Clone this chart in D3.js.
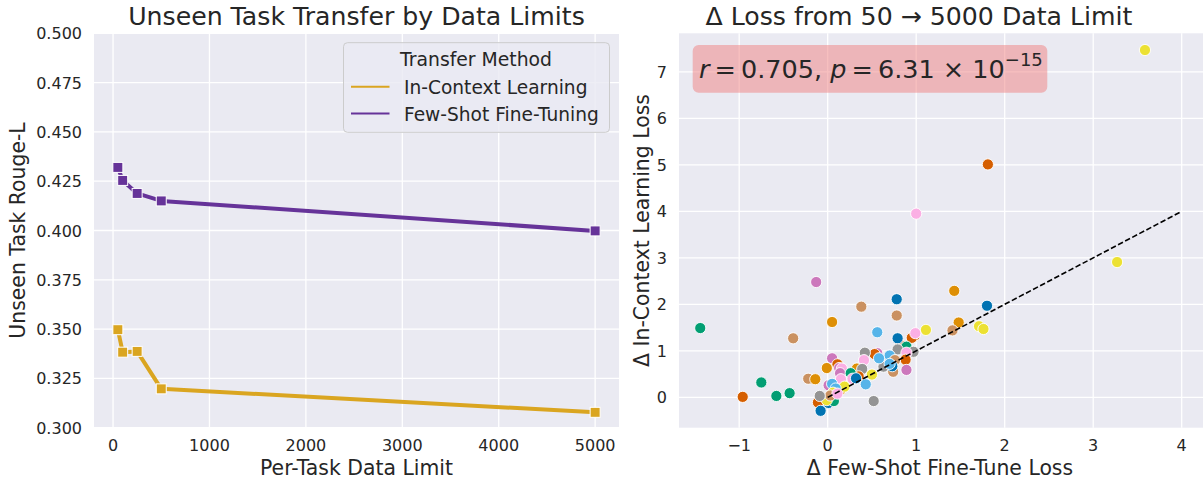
<!DOCTYPE html>
<html>
<head>
<meta charset="utf-8">
<script src="https://cdn.jsdelivr.net/npm/d3@7"></script>
<style>
  body { margin: 0; background: #fff; }
  svg { display: block; font-family: "DejaVu Sans", sans-serif; }
</style>
</head>
<body>
<div id="chart"></div>
<script>
// left panel: rouge-L vs per-task data limit
const dataLimits = [50, 100, 250, 500, 5000];
const iclRouge = [0.3497, 0.3383, 0.3387, 0.3197, 0.3078];
const fsftRouge = [0.4320, 0.4254, 0.4188, 0.4150, 0.3998];
const methodNames = ["In-Context Learning", "Few-Shot Fine-Tuning"];
const methodColors = ["#DAA520", "#663399"];
const leftXTicks = [0, 1000, 2000, 3000, 4000, 5000];
const leftYTicks = [0.300, 0.325, 0.350, 0.375, 0.400, 0.425, 0.450, 0.475, 0.500];

// right panel: delta loss per task  [d few-shot FT, d ICL, task group]
const deltaLoss = [
  [0.78, 2.11, 0], [1.80, 1.97, 0], [-1.44, 1.49, 2], [-0.13, 2.48, 4], [0.38, 1.95, 5],
  [1.81, 5.01, 3], [1.00, 3.95, 6], [3.585, 7.47, 8], [3.27, 2.91, 8], [1.43, 2.29, 1],
  [0.78, 1.76, 5], [0.05, 1.62, 1], [1.48, 1.61, 1], [1.71, 1.53, 8], [1.76, 1.47, 8],
  [1.41, 1.44, 5], [-0.39, 1.27, 5], [-0.75, 0.32, 2], [-0.43, 0.09, 2], [-0.58, 0.03, 2],
  [-0.96, 0.01, 3], [-0.22, 0.40, 5], [-0.14, 0.39, 1], [1.11, 1.45, 8], [0.98, 1.32, 3],
  [0.95, 1.28, 3], [0.99, 1.38, 6], [0.56, 1.40, 9], [0.82, 1.13, 5], [0.89, 1.09, 2],
  [0.79, 1.27, 0], [0.79, 1.03, 7], [0.97, 0.98, 7], [0.89, 0.96, 6], [0.88, 0.81, 3],
  [0.71, 0.80, 7], [0.70, 0.90, 9], [0.76, 0.80, 5], [0.89, 0.59, 4], [0.74, 0.55, 5],
  [0.73, 0.67, 0], [0.63, 0.66, 7], [0.70, 0.72, 9], [0.56, 0.95, 4], [0.53, 0.93, 3],
  [0.42, 0.96, 7], [0.58, 0.84, 9], [0.41, 0.80, 6], [0.33, 0.62, 1], [0.39, 0.61, 7],
  [0.35, 0.45, 3], [0.50, 0.49, 8], [0.43, 0.28, 9], [0.52, -0.08, 7], [0.05, 0.84, 4],
  [0.11, 0.71, 3], [-0.01, 0.63, 1], [0.13, 0.63, 4], [0.16, 0.62, 6], [0.14, 0.52, 4],
  [0.26, 0.52, 2], [0.28, 0.40, 6], [0.32, 0.41, 0], [0.15, 0.39, 6], [0.01, 0.26, 4],
  [0.05, 0.29, 9], [0.15, 0.17, 1], [0.19, 0.23, 8], [0.09, 0.19, 9], [0.06, 0.10, 8],
  [0.03, -0.02, 2], [0.01, -0.12, 0], [-0.11, -0.11, 3], [0.07, -0.08, 2], [-0.01, -0.06, 8],
  [0.03, 0.04, 5], [0.11, 0.08, 6], [-0.09, 0.03, 7], [-0.08, -0.29, 0]
];
const groupColors = ["#0173B2", "#DE8F05", "#029E73", "#D55E00", "#CC78BC",
                     "#CA9161", "#FBAFE4", "#949494", "#ECE133", "#56B4E9"];
const rightXTicks = [-1, 0, 1, 2, 3, 4];
const rightYTicks = [0, 1, 2, 3, 4, 5, 6, 7];
const refLine = [[0, 0], [4, 4]];

const W = 1203, H = 481;
const ink = "#262626", bg = "#EAEAF2";

const svg = d3.select("#chart").append("svg")
  .attr("width", W).attr("height", H);

function panel(x0, x1, y0, y1) {
  const g = svg.append("g");
  g.append("rect").attr("x", x0).attr("y", y0)
    .attr("width", x1 - x0).attr("height", y1 - y0).attr("fill", bg);
  return g;
}

// ---------- left panel ----------
const L = { x0: 94, x1: 619, y0: 33.3, y1: 427.7 };
const xL = d3.scaleLinear().domain([-197.5, 5247.5]).range([L.x0, L.x1]);
const yL = d3.scaleLinear().domain([0.3, 0.5]).range([L.y1, L.y0]);
const gL = panel(L.x0, L.x1, L.y0, L.y1);

gL.selectAll(".vgrid").data(leftXTicks).join("line")
  .attr("x1", d => xL(d)).attr("x2", d => xL(d))
  .attr("y1", L.y0).attr("y2", L.y1)
  .attr("stroke", "#fff").attr("stroke-width", 1.3);
gL.selectAll(".hgrid").data(leftYTicks).join("line")
  .attr("x1", L.x0).attr("x2", L.x1)
  .attr("y1", d => yL(d)).attr("y2", d => yL(d))
  .attr("stroke", "#fff").attr("stroke-width", 1.3);

gL.selectAll(".xt").data(leftXTicks).join("text")
  .attr("x", d => xL(d)).attr("y", L.y1 + 23.5)
  .attr("text-anchor", "middle").attr("font-size", 16).attr("fill", ink)
  .text(d => d);
gL.selectAll(".yt").data(leftYTicks).join("text")
  .attr("x", L.x0 - 12).attr("y", d => yL(d) + 6)
  .attr("text-anchor", "end").attr("font-size", 16).attr("fill", ink)
  .text(d => d3.format(".3f")(d));

const lineL = d3.line().x(d => xL(d[0])).y(d => yL(d[1]));
[iclRouge, fsftRouge].forEach((vals, i) => {
  const pts = dataLimits.map((x, j) => [x, vals[j]]);
  gL.append("path").datum(pts)
    .attr("d", lineL).attr("fill", "none")
    .attr("stroke", methodColors[i]).attr("stroke-width", 4)
    .attr("stroke-linejoin", "round");
  gL.selectAll(".m" + i).data(pts).join("rect")
    .attr("x", d => xL(d[0]) - 5).attr("y", d => yL(d[1]) - 5)
    .attr("width", 10).attr("height", 10)
    .attr("fill", methodColors[i]).attr("stroke", "#fff").attr("stroke-width", 1);
});

// legend
const lg = gL.append("g");
lg.append("rect").attr("x", 343.5).attr("y", 42.7).attr("width", 266).attr("height", 89.6)
  .attr("rx", 4).attr("fill", bg).attr("fill-opacity", 0.8)
  .attr("stroke", "#cccccc").attr("stroke-width", 1);
lg.append("text").attr("x", 476).attr("y", 66)
  .attr("text-anchor", "middle").attr("font-size", 18.8).attr("fill", ink)
  .text("Transfer Method");
methodNames.forEach((name, i) => {
  const yy = 86.7 + i * 26.8;
  lg.append("line").attr("x1", 351).attr("x2", 389.5).attr("y1", yy).attr("y2", yy)
    .attr("stroke", methodColors[i]).attr("stroke-width", 2);
  lg.append("text").attr("x", 404).attr("y", yy + 7)
    .attr("font-size", 18.6).attr("fill", ink).text(name);
});

svg.append("text").attr("x", (L.x0 + L.x1) / 2).attr("y", 25)
  .attr("text-anchor", "middle").attr("font-size", 25.2).attr("fill", ink)
  .text("Unseen Task Transfer by Data Limits");
svg.append("text").attr("x", (L.x0 + L.x1) / 2).attr("y", 475)
  .attr("text-anchor", "middle").attr("font-size", 20.4).attr("fill", ink)
  .text("Per-Task Data Limit");
svg.append("text")
  .attr("transform", `translate(25,${(L.y0 + L.y1) / 2}) rotate(-90)`)
  .attr("text-anchor", "middle").attr("font-size", 20.4).attr("fill", ink)
  .text("Unseen Task Rouge-L");

// ---------- right panel ----------
const R = { x0: 679, x1: 1205.6, y0: 33.3, y1: 427.7 };
const xR = d3.scaleLinear().domain([-1.68, 4.27]).range([R.x0, R.x1]);
const yR = d3.scaleLinear().domain([-0.653, 7.83]).range([R.y1, R.y0]);
const gR = panel(R.x0, R.x1, R.y0, R.y1);

gR.selectAll(".vgrid").data(rightXTicks).join("line")
  .attr("x1", d => xR(d)).attr("x2", d => xR(d))
  .attr("y1", R.y0).attr("y2", R.y1)
  .attr("stroke", "#fff").attr("stroke-width", 1.3);
gR.selectAll(".hgrid").data(rightYTicks).join("line")
  .attr("x1", R.x0).attr("x2", R.x1)
  .attr("y1", d => yR(d)).attr("y2", d => yR(d))
  .attr("stroke", "#fff").attr("stroke-width", 1.3);

gR.selectAll(".xt").data(rightXTicks).join("text")
  .attr("x", d => xR(d)).attr("y", R.y1 + 23.5)
  .attr("text-anchor", "middle").attr("font-size", 16).attr("fill", ink)
  .text(d => d < 0 ? "\u2212" + Math.abs(d) : d);
gR.selectAll(".yt").data(rightYTicks).join("text")
  .attr("x", R.x0 - 12).attr("y", d => yR(d) + 6)
  .attr("text-anchor", "end").attr("font-size", 16).attr("fill", ink)
  .text(d => d);

gR.selectAll(".pt").data(deltaLoss).join("circle")
  .attr("cx", d => xR(d[0])).attr("cy", d => yR(d[1]))
  .attr("r", 5.6)
  .attr("fill", d => groupColors[d[2]])
  .attr("stroke", "#fff").attr("stroke-width", 0.9);

gR.append("path").datum(refLine)
  .attr("d", d3.line().x(d => xR(d[0])).y(d => yR(d[1])))
  .attr("fill", "none").attr("stroke", "#000")
  .attr("stroke-width", 1.6).attr("stroke-dasharray", "5.5,2.5");

// stats box
gR.append("rect").attr("x", 692.7).attr("y", 45).attr("width", 354.6).attr("height", 47.7)
  .attr("rx", 6).attr("fill", "#F08080").attr("fill-opacity", 0.5);
const st = gR.append("text").attr("x", 699).attr("y", 77.5)
  .attr("font-size", 25.5).attr("fill", ink);
st.append("tspan").attr("font-style", "italic").text("r");
st.append("tspan").text("\u2009=\u20090.705, ");
st.append("tspan").attr("font-style", "italic").text("p");
st.append("tspan").text("\u2009=\u20096.31 \u00d7 10");
st.append("tspan").attr("dy", -12).attr("font-size", 18).text("\u221215");

svg.append("text").attr("x", 919).attr("y", 25)
  .attr("text-anchor", "middle").attr("font-size", 25.2).attr("fill", ink)
  .text("\u0394 Loss from 50 \u2192 5000 Data Limit");
svg.append("text").attr("x", 940).attr("y", 475)
  .attr("text-anchor", "middle").attr("font-size", 20.4).attr("fill", ink)
  .text("\u0394 Few-Shot Fine-Tune Loss");
svg.append("text")
  .attr("transform", `translate(649,${(R.y0 + R.y1) / 2}) rotate(-90)`)
  .attr("text-anchor", "middle").attr("font-size", 20.4).attr("fill", ink)
  .text("\u0394 In-Context Learning Loss");
</script>
</body>
</html>
